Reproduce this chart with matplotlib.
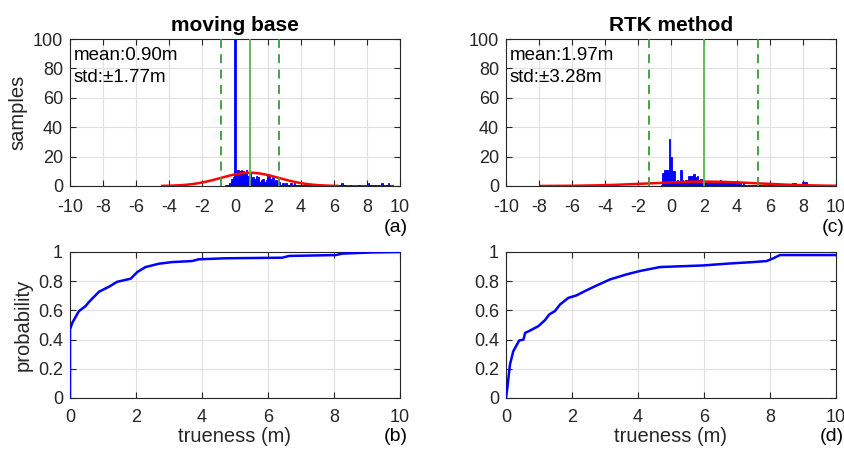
import numpy as np
import matplotlib
matplotlib.use("Agg")
import matplotlib.pyplot as plt

plt.rcParams['font.family'] = ['Liberation Sans', 'DejaVu Sans']
plt.rcParams['axes.unicode_minus'] = False

# ---------------- data ----------------
bin_width = 0.1
bin_centers = np.round(np.arange(-0.5, 9.51, 0.1), 2)

mb_counts = [1, 1, 2, 5, 6, 188, 7, 11, 10, 11,
             10, 9, 11, 7, 9, 4, 6, 5, 7, 6,
             3, 4, 5, 3, 4, 8, 7, 5, 6, 3,
             4, 2, 3, 1, 2, 1, 2, 1, 1, 2,
             1, 2, 1, 1, 1, 1, 0, 1, 1, 0,
             1, 1, 0, 1, 0, 1, 0, 1, 0, 1,
             0, 1, 0, 0, 0, 0, 0, 0, 0, 1,
             2, 1, 1, 0, 0, 1, 0, 0, 0, 0,
             1, 0, 0, 0, 0, 0, 2, 1, 1, 0,
             1, 0, 1, 0, 2, 1, 0, 1, 2, 0,
             0]

rtk_counts = [9, 11, 11, 11, 32, 20, 10, 10, 3, 4,
              2, 11, 4, 3, 4, 4, 7, 7, 7, 8,
              6, 7, 4, 5, 4, 2, 3, 2, 3, 2,
              3, 2, 3, 2, 3, 4, 3, 2, 3, 2,
              3, 2, 2, 3, 2, 1, 2, 2, 1, 2,
              1, 0, 1, 0, 1, 1, 0, 1, 0, 1,
              0, 1, 0, 0, 1, 0, 1, 0, 0, 0,
              0, 0, 0, 0, 0, 0, 0, 0, 0, 2,
              2, 0, 0, 0, 0, 3, 3, 3, 0, 0,
              0, 0, 0, 0, 0, 0, 0, 0, 0, 0,
              0]

mb_mean, mb_std = 0.90, 1.77
rtk_mean, rtk_std = 1.97, 3.28
fit_peak = [9.0, 3.0]   # peak height of fitted normal curve (samples)

mb_cdf_x = [0, 0, 0.07, 0.27, 0.47, 0.58, 0.88, 1.18, 1.43, 1.84, 2.04, 2.29,
            2.7, 3.1, 3.7, 3.9, 4.72, 6.43, 6.64, 8.05, 8.25, 9.16, 10]
mb_cdf_p = [0, 0.469, 0.515, 0.595, 0.629, 0.659, 0.728, 0.762, 0.796, 0.817,
            0.863, 0.897, 0.92, 0.931, 0.938, 0.95, 0.957, 0.961, 0.973, 0.979,
            0.989, 0.997, 1.0]

rtk_cdf_x = [0, 0.04, 0.12, 0.22, 0.40, 0.53, 0.58, 0.73, 0.98, 1.18, 1.31, 1.48,
             1.64, 1.89, 2.14, 2.39, 2.75, 3.15, 3.66, 4.06, 4.67, 5.98, 6.69,
             7.49, 7.9, 8.1, 8.3, 10]
rtk_cdf_p = [0, 0.069, 0.229, 0.32, 0.394, 0.40, 0.446, 0.462, 0.492, 0.533,
             0.572, 0.595, 0.641, 0.686, 0.703, 0.732, 0.771, 0.812, 0.847, 0.87,
             0.897, 0.908, 0.92, 0.931, 0.938, 0.957, 0.979, 0.979]

titles = ['moving base', 'RTK method']
panel_top = ['(a)', '(c)']
panel_bot = ['(b)', '(d)']

# ---------------- style ----------------
BLUE = '#0000ff'
RED = '#ff0000'
GREEN_SOLID = '#5ab45a'
GREEN_DASH = '#3a9a3a'
TXT = '#262626'
TICK_FS = 13
LABEL_FS = 14.5

fig = plt.figure(figsize=(8.45, 4.53), dpi=100)

lefts = [70 / 845, 506 / 845]
w = 330 / 845
top_b, top_h = (453 - 186) / 453, 147 / 453
bot_b, bot_h = (453 - 398) / 453, 146 / 453


def style_axes(ax, xpad):
    ax.grid(True, color='#e0e0e0', linewidth=0.8)
    ax.set_axisbelow(True)
    for s in ax.spines.values():
        s.set_color(TXT)
        s.set_linewidth(0.8)
    ax.tick_params(direction='in', length=4, width=0.8, colors=TXT,
                   labelsize=TICK_FS, top=True, right=True)
    ax.tick_params(axis='x', pad=xpad)
    ax.tick_params(axis='y', pad=5)


hist_data = [(mb_counts, mb_mean, mb_std), (rtk_counts, rtk_mean, rtk_std)]
cdf_data = [(mb_cdf_x, mb_cdf_p), (rtk_cdf_x, rtk_cdf_p)]

for i in range(2):
    counts, mu, sd = hist_data[i]
    counts = np.array(counts, dtype=float)
    ax = fig.add_axes([lefts[i], top_b, w, top_h])
    style_axes(ax, 9)
    ax.bar(bin_centers, counts, width=bin_width, color=BLUE, edgecolor=BLUE,
           linewidth=0.6, zorder=2)
    ax.plot([bin_centers[0] - bin_width / 2, bin_centers[-1] + bin_width / 2], [0, 0],
            color=BLUE, linewidth=1.2, zorder=2)
    xs = np.linspace(mu - 3 * sd, mu + 3 * sd, 300)
    ys = fit_peak[i] * np.exp(-0.5 * ((xs - mu) / sd) ** 2)
    ax.plot(xs, ys, color=RED, linewidth=1.8, zorder=3)
    ax.axvline(mu, color=GREEN_SOLID, linewidth=1.3, zorder=4)
    ax.axvline(mu - sd, color=GREEN_DASH, linewidth=1.3, linestyle=(0, (5, 3.5)), zorder=4)
    ax.axvline(mu + sd, color=GREEN_DASH, linewidth=1.3, linestyle=(0, (5, 3.5)), zorder=4)
    ax.set_xlim(-10, 10)
    ax.set_ylim(0, 100)
    ax.set_xticks(np.arange(-10, 11, 2))
    ax.set_yticks(np.arange(0, 101, 20))
    ax.set_title(titles[i], fontsize=15, fontweight='bold', color='black', pad=6)
    ax.text(0.012, 0.89, 'mean:%.2fm' % mu, transform=ax.transAxes, fontsize=13.5,
            va='center', ha='left', color='black')
    ax.text(0.012, 0.735, 'std:\u00b1%.2fm' % sd, transform=ax.transAxes, fontsize=13.5,
            va='center', ha='left', color='black')
    ax.text(1.025, -0.28, panel_top[i], transform=ax.transAxes, fontsize=14,
            va='center', ha='right', color='black')
    if i == 0:
        ax.set_ylabel('samples', fontsize=LABEL_FS, color=TXT, labelpad=4)

    cx, cp = cdf_data[i]
    ax2 = fig.add_axes([lefts[i], bot_b, w, bot_h])
    style_axes(ax2, 8)
    ax2.plot(cx, cp, color=BLUE, linewidth=1.8, zorder=3)
    ax2.set_xlim(0, 10)
    ax2.set_ylim(0, 1)
    ax2.set_xticks(np.arange(0, 11, 2))
    ax2.set_yticks(np.arange(0, 1.01, 0.2))
    ax2.set_yticklabels(['0', '0.2', '0.4', '0.6', '0.8', '1'])
    ax2.set_xlabel('trueness (m)', fontsize=LABEL_FS, color=TXT, labelpad=1)
    ax2.text(1.025, -0.265, panel_bot[i], transform=ax2.transAxes, fontsize=14,
             va='center', ha='right', color='black')
    if i == 0:
        ax2.set_ylabel('probability', fontsize=LABEL_FS, color=TXT, labelpad=4)

fig.savefig('out.png', dpi=100)
